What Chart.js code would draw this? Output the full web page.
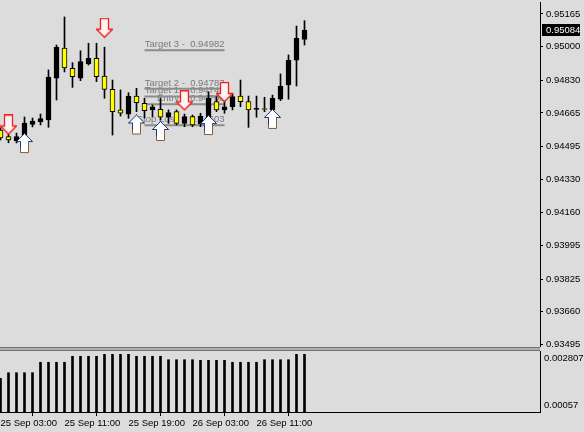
<!DOCTYPE html>
<html>
<head>
<meta charset="utf-8">
<script src="https://cdn.jsdelivr.net/npm/chart.js"></script>
<style>
  html, body { margin: 0; padding: 0; background: #dcdcdc; }
  #wrap { position: relative; width: 584px; height: 432px; overflow: hidden; }
  #main { position: absolute; left: 0; top: 0; }
  #sub { position: absolute; left: 0; top: 347px; }
</style>
</head>
<body>
<div id="wrap">
  <canvas id="main" width="584" height="350"></canvas>
  <canvas id="sub" width="584" height="85"></canvas>
</div>
<script>
const FONT = '"Liberation Sans", Arial, sans-serif';

// hourly bars, 25 Sep 03:00 -> 26 Sep 17:00
const timeTicks = [0, 8, 16, 24, 32];
const timeLabels = ['25 Sep 03:00', '25 Sep 11:00', '25 Sep 19:00', '26 Sep 03:00', '26 Sep 11:00'];

const opens  = [0.94578, 0.94545, 0.94524, 0.94548, 0.94607, 0.94619, 0.94629, 0.94841, 0.94993, 0.94890,
                0.94840, 0.94912, 0.94941, 0.94851, 0.94784, 0.94680, 0.94659, 0.94750, 0.94713, 0.94680,
                0.94683, 0.94643, 0.94671, 0.94612, 0.94646, 0.94609, 0.94638, 0.94722, 0.94680, 0.94696,
                0.94750, 0.94722, 0.94683, 0.94683, 0.94680, 0.94734, 0.94806, 0.94932, 0.95037];
const highs  = [0.94589, 0.94558, 0.94563, 0.94644, 0.94639, 0.94659, 0.94882, 0.95008, 0.95150, 0.94919,
                0.94979, 0.95017, 0.95017, 0.94997, 0.94831, 0.94781, 0.94767, 0.94789, 0.94739, 0.94705,
                0.94739, 0.94680, 0.94680, 0.94659, 0.94654, 0.94663, 0.94772, 0.94747, 0.94730, 0.94764,
                0.94831, 0.94750, 0.94750, 0.94744, 0.94755, 0.94862, 0.94958, 0.95104, 0.95131];
const lows   = [0.94528, 0.94514, 0.94513, 0.94528, 0.94594, 0.94604, 0.94592, 0.94730, 0.94872, 0.94794,
                0.94828, 0.94907, 0.94823, 0.94739, 0.94553, 0.94649, 0.94638, 0.94671, 0.94639, 0.94646,
                0.94629, 0.94612, 0.94604, 0.94595, 0.94595, 0.94595, 0.94604, 0.94671, 0.94663, 0.94680,
                0.94696, 0.94592, 0.94643, 0.94671, 0.94669, 0.94727, 0.94734, 0.94801, 0.95008];
const closes = [0.94538, 0.94528, 0.94545, 0.94614, 0.94624, 0.94636, 0.94846, 0.94998, 0.94892, 0.94848,
                0.94924, 0.94941, 0.94848, 0.94784, 0.94671, 0.94663, 0.94750, 0.94716, 0.94676, 0.94696,
                0.94643, 0.94666, 0.94612, 0.94646, 0.94604, 0.94649, 0.94739, 0.94680, 0.94696, 0.94747,
                0.94722, 0.94680, 0.94683, 0.94682, 0.94739, 0.94801, 0.94932, 0.95042, 0.95084];

const priceTicks = [0.95165, 0.95000, 0.94830, 0.94665, 0.94495, 0.94330, 0.94160, 0.93995, 0.93825, 0.93660, 0.93495];

// trade levels drawn as short segments
const levelNames  = ['Target 3', 'Target 2', 'Target 1', 'Entry', 'Stop Loss'];
const levelPrices = [0.94982, 0.94787, 0.94748, 0.94708, 0.94603];
const levelFrom = 18;
const levelTo = 28;

// signal arrows (bar index, price at arrow centre)
const sellIdx   = [1, 13, 23, 28];
const sellPrice = [0.94604, 0.95093, 0.94726, 0.94768];
const buyIdx    = [3, 17, 20, 26, 34];
const buyPrice  = [0.94510, 0.94604, 0.94571, 0.94601, 0.94632];

// indicator window
const atrValues = [0.001806, 0.002011, 0.002011, 0.002011, 0.002011, 0.002393, 0.002393, 0.002393, 0.002393,
                   0.002613, 0.002613, 0.002613, 0.002613, 0.002686, 0.002686, 0.002686, 0.002686,
                   0.002613, 0.002613, 0.002613, 0.002613, 0.002488, 0.002488, 0.002488, 0.002488,
                   0.002466, 0.002466, 0.002466, 0.002466, 0.002393, 0.002393, 0.002393, 0.002393,
                   0.002488, 0.002488, 0.002488, 0.002488, 0.002686, 0.002686];
const atrRange = [0.00057, 0.002807];
const atrLabels = ['0.002807', '0.00057'];

const X_MIN = -0.0625, X_MAX = 67.4375;

function makeArrow(up) {
  const c = document.createElement('canvas');
  c.width = 17; c.height = 21;
  const g = c.getContext('2d');
  g.translate(0.5, 0.5);
  g.beginPath();
  if (up) {
    g.moveTo(8, 0); g.lineTo(16, 8); g.lineTo(12, 8); g.lineTo(12, 19);
    g.lineTo(4, 19); g.lineTo(4, 8); g.lineTo(0, 8); g.closePath();
    g.fillStyle = '#ffffff'; g.fill();
    g.strokeStyle = '#8a5a3c'; g.lineWidth = 1; g.stroke();
    g.beginPath();
    g.moveTo(4, 15); g.lineTo(4, 8); g.lineTo(0, 8); g.lineTo(8, 0); g.lineTo(16, 8); g.lineTo(12, 8);
    g.strokeStyle = '#1c3a78'; g.stroke();
  } else {
    g.moveTo(4, 0); g.lineTo(12, 0); g.lineTo(12, 11); g.lineTo(16, 11);
    g.lineTo(8, 19); g.lineTo(0, 11); g.lineTo(4, 11); g.closePath();
    g.fillStyle = '#fff4f4'; g.fill();
    g.strokeStyle = '#f02020'; g.lineWidth = 1.3; g.stroke();
  }
  return c;
}
const downArrow = makeArrow(false);
const upArrow = makeArrow(true);

const levelText = {
  id: 'levelText',
  beforeDatasetsDraw(chart) {
    const {ctx, scales: {x, y}} = chart;
    ctx.save();
    ctx.font = '9.5px ' + FONT;
    ctx.fillStyle = '#7a7a7a';
    ctx.textAlign = 'right';
    ctx.textBaseline = 'bottom';
    levelNames.forEach((n, i) => {
      ctx.fillText(n + ' -  ' + levelPrices[i].toFixed(5), x.getPixelForValue(levelTo), y.getPixelForValue(levelPrices[i]) - 1);
    });
    ctx.restore();
  }
};

const priceTag = {
  id: 'priceTag',
  afterDraw(chart) {
    const {ctx, scales: {y}} = chart;
    const last = closes[closes.length - 1];
    const py = Math.round(y.getPixelForValue(last));
    ctx.save();
    ctx.fillStyle = '#000';
    ctx.fillRect(y.left + 2, py - 6, 38, 12);
    ctx.fillStyle = '#fff';
    ctx.font = '9.5px ' + FONT;
    ctx.textAlign = 'left';
    ctx.textBaseline = 'middle';
    ctx.fillText(last.toFixed(5), y.left + 6, py + 0.5);
    ctx.restore();
  }
};

new Chart(document.getElementById('main'), {
  type: 'bar',
  data: {
    datasets: [
      ...levelPrices.map(p => ({
        type: 'line',
        data: [{x: levelFrom, y: p}, {x: levelTo, y: p}],
        borderColor: '#8c8c8c', borderWidth: 2, pointRadius: 0, order: 5
      })),
      {
        data: opens.map((o, i) => ({x: i, y: [lows[i], highs[i]]})),
        backgroundColor: '#000', barThickness: 1, grouped: false, order: 4
      },
      {
        data: opens.map((o, i) => ({x: i, y: [o, closes[i]]})),
        backgroundColor: opens.map((o, i) => closes[i] < o ? '#ffff00' : '#000'),
        borderColor: '#000', borderWidth: 1, borderSkipped: false,
        barThickness: 5, minBarLength: 1, grouped: false, order: 3
      },
      {
        type: 'scatter',
        data: sellIdx.map((k, j) => ({x: k, y: sellPrice[j]})),
        pointStyle: downArrow, pointRadius: 8, order: 1
      },
      {
        type: 'scatter',
        data: buyIdx.map((k, j) => ({x: k, y: buyPrice[j]})),
        pointStyle: upArrow, pointRadius: 8, order: 1
      }
    ]
  },
  options: {
    responsive: false,
    animation: false,
    events: [],
    layout: {autoPadding: false, padding: {top: 2, bottom: 4, left: 0, right: 0}},
    plugins: {legend: {display: false}, tooltip: {enabled: false}},
    scales: {
      x: {type: 'linear', min: X_MIN, max: X_MAX, offset: false, display: false},
      y: {
        type: 'linear', position: 'right',
        min: 0.9348635, max: 0.9522557,
        afterBuildTicks: s => { s.ticks = priceTicks.map(v => ({value: v})); },
        afterFit: s => { s.width = 44; s.paddingTop = 0; s.paddingBottom = 0; },
        grid: {display: true, drawOnChartArea: false, tickLength: 3, color: '#000'},
        border: {display: true, color: '#000', width: 1},
        ticks: {padding: 3, color: '#000', autoSkip: false, font: {family: FONT, size: 9.5}, callback: v => v.toFixed(5)}
      }
    }
  },
  plugins: [levelText, priceTag]
});

const subDeco = {
  id: 'subDeco',
  beforeDraw(chart) {
    const {ctx, chartArea} = chart;
    ctx.save();
    ctx.fillStyle = '#b0b0b0';
    ctx.fillRect(0, 0, chartArea.right, 4);
    ctx.fillStyle = '#707070';
    ctx.fillRect(0, 0, chartArea.right, 1);
    ctx.fillRect(0, 3, chartArea.right, 1);
    ctx.restore();
  },
  afterDraw(chart) {
    const {ctx, chartArea} = chart;
    ctx.save();
    ctx.font = '9.5px ' + FONT;
    ctx.fillStyle = '#000';
    ctx.textAlign = 'left';
    ctx.textBaseline = 'top';
    ctx.fillText(atrLabels[0], chartArea.right + 4, chartArea.top + 3);
    ctx.textBaseline = 'bottom';
    ctx.fillText(atrLabels[1], chartArea.right + 4, chartArea.bottom - 2);
    ctx.restore();
  }
};

new Chart(document.getElementById('sub'), {
  type: 'bar',
  data: {
    datasets: [{
      data: atrValues.map((v, i) => ({x: i, y: v})),
      backgroundColor: '#000', barThickness: 2
    }]
  },
  options: {
    responsive: false,
    animation: false,
    events: [],
    layout: {autoPadding: false, padding: {top: 4, bottom: 0, left: 0, right: 0}},
    plugins: {legend: {display: false}, tooltip: {enabled: false}},
    scales: {
      x: {
        type: 'linear', min: X_MIN, max: X_MAX, offset: false,
        afterBuildTicks: s => { s.ticks = timeTicks.map(v => ({value: v})); },
        afterFit: s => { s.height = 20; s.paddingLeft = 0; s.paddingRight = 0; },
        grid: {display: true, drawOnChartArea: false, tickLength: 4, color: '#000'},
        border: {display: true, color: '#000'},
        ticks: {align: 'start', padding: 2, maxRotation: 0, autoSkip: false, color: '#000',
                font: {family: FONT, size: 9.5}, callback: (v, i) => timeLabels[i]}
      },
      y: {
        type: 'linear', position: 'right', min: atrRange[0], max: atrRange[1],
        afterFit: s => { s.width = 44; s.paddingTop = 0; s.paddingBottom = 0; },
        grid: {display: false},
        border: {display: true, color: '#000'},
        ticks: {display: false}
      }
    }
  },
  plugins: [subDeco]
});
</script>
</body>
</html>
